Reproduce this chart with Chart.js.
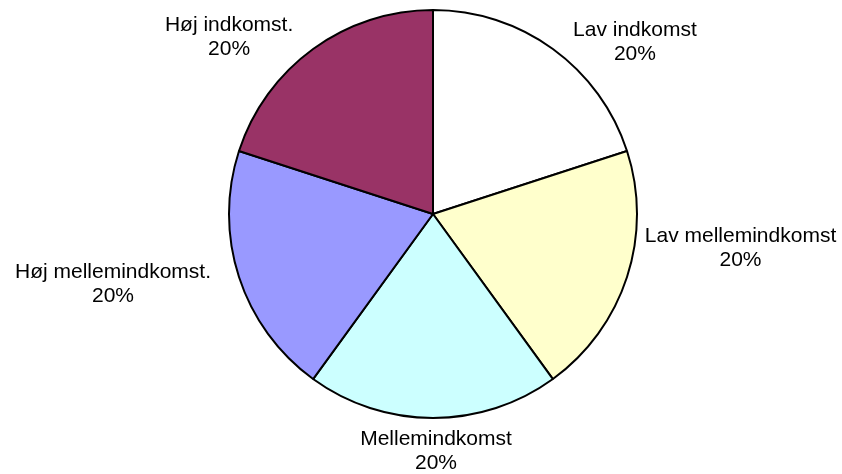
<!DOCTYPE html>
<html>
<head>
<meta charset="utf-8">
<script src="https://cdn.jsdelivr.net/npm/chart.js@4"></script>
<style>
    html, body { margin: 0; padding: 0; background: #fff; }
    #wrap { width: 842px; height: 474px; position: relative; }
</style>
</head>
<body>
<div id="wrap"><canvas id="pie"></canvas></div>
<script>
// Data
const categories = ['Lav indkomst', 'Lav mellemindkomst', 'Mellemindkomst', 'Høj mellemindkomst.', 'Høj indkomst.'];
const shares = [20, 20, 20, 20, 20];
const sliceColors = ['#ffffff', '#ffffcc', '#ccffff', '#9999ff', '#993366'];

// Label nudges from the slice's rim point (first line baseline)
const labelNudge = [[82, -12.5], [113.5, -35.5], [3, 26.5], [-126, 0.5], [-84, -17.5]];

const outsideLabels = {
    id: 'outsideLabels',
    afterDatasetsDraw(chart) {
        const ctx = chart.ctx;
        const meta = chart.getDatasetMeta(0);
        const total = shares.reduce((a, b) => a + b, 0);
        ctx.save();
        ctx.fillStyle = '#000';
        ctx.font = '21px "Liberation Sans", Arial, sans-serif';
        ctx.textAlign = 'center';
        ctx.textBaseline = 'alphabetic';
        meta.data.forEach((arc, i) => {
            const p = arc.getProps(['x', 'y', 'startAngle', 'endAngle', 'outerRadius'], true);
            const mid = (p.startAngle + p.endAngle) / 2;
            const ax = p.x + Math.cos(mid) * p.outerRadius + labelNudge[i][0];
            const ay = p.y + Math.sin(mid) * p.outerRadius + labelNudge[i][1];
            const pct = Math.round(shares[i] / total * 100) + '%';
            ctx.fillText(categories[i], ax, ay);
            ctx.fillText(pct, ax, ay + 24);
        });
        ctx.restore();
    }
};

new Chart(document.getElementById('pie'), {
    type: 'pie',
    data: {
        labels: categories,
        datasets: [{
            data: shares,
            backgroundColor: sliceColors,
            borderColor: '#000',
            borderWidth: 2
        }]
    },
    options: {
        responsive: true,
        maintainAspectRatio: false,
        animation: false,
        layout: { padding: { left: 24, right: 0, top: 9, bottom: 55 } },
        plugins: { legend: { display: false }, tooltip: { enabled: false } }
    },
    plugins: [outsideLabels]
});
</script>
</body>
</html>
